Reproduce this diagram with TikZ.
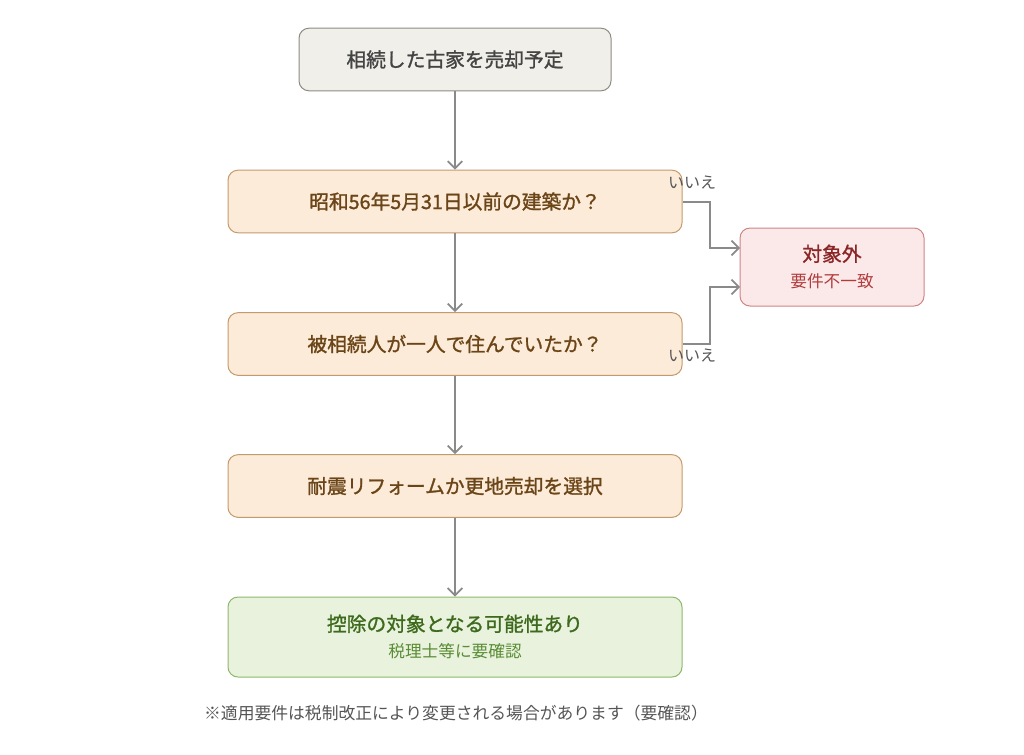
\documentclass[tikz,border=0pt]{standalone}
\usepackage{fontspec}
\setmainfont{Noto Sans CJK JP}
\newfontfamily\jpmed[FakeBold=1.3]{Noto Sans CJK JP}
\usetikzlibrary{arrows.meta}
\definecolor{startfill}{HTML}{F1EFE9}
\definecolor{startdraw}{HTML}{8C8A82}
\definecolor{starttext}{HTML}{444444}
\definecolor{qfill}{HTML}{FBEBD8}
\definecolor{qdraw}{HTML}{C49A6C}
\definecolor{qtext}{HTML}{6B4518}
\definecolor{nfill}{HTML}{FBE9E9}
\definecolor{ndraw}{HTML}{CF8585}
\definecolor{ntext}{HTML}{8B2626}
\definecolor{nsub}{HTML}{B03C3C}
\definecolor{gfill}{HTML}{E8F2DC}
\definecolor{gdraw}{HTML}{8DB86C}
\definecolor{gtext}{HTML}{3E6A1E}
\definecolor{gsub}{HTML}{5A8C36}
\definecolor{arr}{HTML}{8A8A8A}
\definecolor{lbl}{HTML}{555555}
\tikzset{
  box/.style={rounded corners=7.5pt, line width=0.75pt, align=center, inner sep=0pt},
  startbox/.style={box, fill=startfill, draw=startdraw, text=starttext, minimum width=234pt, minimum height=47pt, font=\jpmed\fontsize{14.8}{17}\selectfont},
  qbox/.style={box, fill=qfill, draw=qdraw, text=qtext, minimum width=340.5pt, minimum height=47pt, font=\jpmed\fontsize{14.8}{17}\selectfont},
  nobox/.style={box, fill=nfill, draw=ndraw, minimum width=138pt, minimum height=58.5pt},
  goalbox/.style={box, fill=gfill, draw=gdraw, minimum width=340.5pt, minimum height=60pt},
  conn/.style={draw=arr, line width=1.5pt, -{Straight Barb[length=5.5pt,width=11pt,line width=1.3pt]}},
  nolabel/.style={text=lbl, font=\fontsize{12}{14}\selectfont, inner sep=0pt}
}
\begin{document}
\begin{tikzpicture}[x=0.75pt,y=-0.75pt]
\useasboundingbox (0,0) rectangle (1024,754);
\node[startbox] (start) at (455,59.5) {相続した古家を売却予定};
\node[qbox] (q1) at (455,201.5) {昭和56年5月31日以前の建築か？};
\node[qbox] (q2) at (455,344) {被相続人が一人で住んでいたか？};
\node[qbox] (step) at (455,486) {耐震リフォームか更地売却を選択};
\node[goalbox] (goal) at (455,637) {{\color{gtext}\jpmed\fontsize{14.8}{17}\selectfont 控除の対象となる可能性あり}\\[8pt]{\color{gsub}\fontsize{12.5}{15}\selectfont 税理士等に要確認}};
\node[nobox] (no) at (832,267) {{\color{ntext}\jpmed\fontsize{14.8}{17}\selectfont 対象外}\\[8pt]{\color{nsub}\fontsize{12.5}{15}\selectfont 要件不一致}};
\draw[conn] (start) -- (q1);
\draw[conn] (q1) -- (q2);
\draw[conn] (q2) -- (step);
\draw[conn] (step) -- (goal);
\coordinate (n1) at (740,248);
\coordinate (n2) at (740,287);
\draw[conn] (q1.east) -| (710,248) -- (n1);
\draw[conn] (q2.east) -| (710,287) -- (n2);
\node[nolabel] (l1) at (692,183) {いいえ};
\node[nolabel] (l2) at (692,356) {いいえ};
\node[text=lbl, font=\fontsize{12.6}{15}\selectfont, inner sep=0pt] (note) at (456,713) {※適用要件は税制改正により変更される場合があります（要確認）};
\end{tikzpicture}
\end{document}
